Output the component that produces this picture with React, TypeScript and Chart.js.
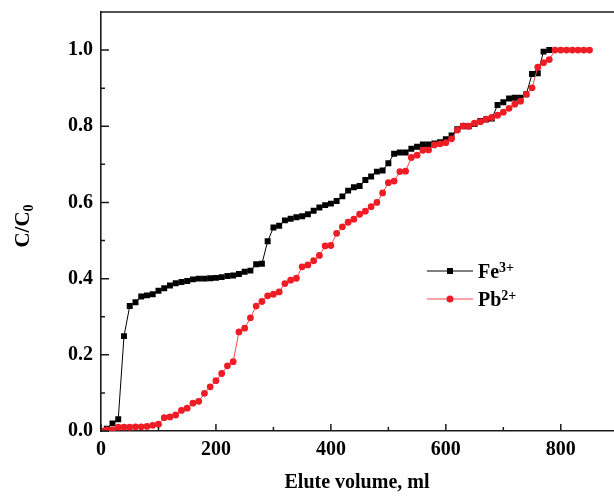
import { useEffect, useRef } from "react";
import { Chart, registerables } from "chart.js";

Chart.register(...registerables);

const FONT = '"Liberation Serif", "Times New Roman", serif';

const feVolume = [
  0, 10, 20, 30, 40, 50, 60, 70, 80, 90, 100, 110, 120, 130, 140, 150, 160, 170, 180, 190,
  200, 210, 220, 230, 240, 250, 260, 270, 280, 290, 300, 310, 320, 330, 340, 350, 360, 370, 380, 390,
  400, 410, 420, 430, 440, 450, 460, 470, 480, 490, 500, 510, 520, 530, 540, 550, 560, 570, 580, 590,
  600, 610, 620, 630, 640, 650, 660, 670, 680, 690, 700, 710, 720, 730, 740, 750, 760, 770, 780,
];
const feRatio = [
  0.0, 0.006, 0.02, 0.031, 0.249, 0.328, 0.338, 0.353, 0.356, 0.359, 0.368, 0.375, 0.382, 0.388, 0.391, 0.394, 0.398, 0.4, 0.4, 0.401,
  0.402, 0.404, 0.407, 0.408, 0.412, 0.418, 0.421, 0.438, 0.439, 0.498, 0.534, 0.539, 0.553, 0.557, 0.561, 0.564, 0.569, 0.578, 0.587, 0.593,
  0.597, 0.604, 0.616, 0.631, 0.64, 0.643, 0.659, 0.668, 0.681, 0.684, 0.703, 0.728, 0.731, 0.731, 0.741, 0.746, 0.752, 0.752, 0.755, 0.758,
  0.766, 0.776, 0.792, 0.8, 0.8, 0.806, 0.814, 0.818, 0.82, 0.856, 0.863, 0.873, 0.875, 0.875, 0.884, 0.937, 0.939, 0.996, 1.0,
];

const pbVolume = [
  0, 10, 20, 30, 40, 50, 60, 70, 80, 90, 100, 110, 120, 130, 140, 150, 160, 170, 180, 190,
  200, 210, 220, 230, 240, 250, 260, 270, 280, 290, 300, 310, 320, 330, 340, 350, 360, 370, 380, 390,
  400, 410, 420, 430, 440, 450, 460, 470, 480, 490, 500, 510, 520, 530, 540, 550, 560, 570, 580, 590,
  600, 610, 620, 630, 640, 650, 660, 670, 680, 690, 700, 710, 720, 730, 740, 750, 760, 770, 780, 790,
  800, 810, 820, 830, 840, 850,
];
const pbRatio = [
  0.0, 0.003, 0.003, 0.01, 0.01, 0.01, 0.011, 0.011, 0.012, 0.015, 0.018, 0.035, 0.037, 0.042, 0.054, 0.06, 0.073, 0.078, 0.099, 0.116,
  0.132, 0.151, 0.171, 0.182, 0.26, 0.27, 0.297, 0.328, 0.34, 0.355, 0.359, 0.365, 0.387, 0.396, 0.401, 0.431, 0.436, 0.447, 0.461, 0.486,
  0.487, 0.519, 0.536, 0.548, 0.556, 0.569, 0.577, 0.589, 0.6, 0.625, 0.652, 0.656, 0.681, 0.682, 0.718, 0.724, 0.737, 0.738, 0.751, 0.754,
  0.757, 0.767, 0.79, 0.801, 0.8, 0.808, 0.812, 0.819, 0.823, 0.829, 0.837, 0.847, 0.858, 0.866, 0.884, 0.901, 0.955, 0.967, 0.975, 1.0,
  1.0, 1.0, 1.0, 1.0, 1.0, 1.0,
];

const xMajorTicks = [0, 200, 400, 600, 800];
const xMinorTicks = [100, 300, 500, 700];
const yMajorTicks = [0, 0.2, 0.4, 0.6, 0.8, 1.0];
const yMinorTicks = [0.1, 0.3, 0.5, 0.7, 0.9];

const seriesNames = ["Fe", "Pb"];
const seriesCharges = ["3+", "2+"];
const xTitle = "Elute volume, ml";
const yTitleMain = "C/C";
const yTitleSub = "0";

const FE_COLOR = "#000000";
const PB_COLOR = "#ee1c25";
const PB_LINE = "#f0494f";
const AXIS_COLOR = "#1a1a1a";

export default function App() {
  const ref = useRef<HTMLCanvasElement>(null);

  useEffect(() => {
    if (!ref.current) return;

    const deco = {
      id: "deco",
      afterDraw(chart: any) {
        const ctx = chart.ctx as CanvasRenderingContext2D;
        const xs = chart.scales.x;
        const ys = chart.scales.y;
        const area = chart.chartArea;
        ctx.save();
        ctx.strokeStyle = AXIS_COLOR;
        ctx.lineWidth = 1.6;
        // top border
        ctx.beginPath();
        ctx.moveTo(area.left - 0.8, area.top);
        ctx.lineTo(area.right, area.top);
        ctx.stroke();
        // inward ticks
        ctx.lineWidth = 1.5;
        ctx.beginPath();
        for (const v of xMajorTicks) {
          const p = xs.getPixelForValue(v);
          ctx.moveTo(p, area.bottom);
          ctx.lineTo(p, area.bottom - 7);
        }
        for (const v of xMinorTicks) {
          const p = xs.getPixelForValue(v);
          ctx.moveTo(p, area.bottom);
          ctx.lineTo(p, area.bottom - 4);
        }
        for (const v of yMajorTicks) {
          const p = ys.getPixelForValue(v);
          ctx.moveTo(area.left, p);
          ctx.lineTo(area.left + 8, p);
        }
        for (const v of yMinorTicks) {
          const p = ys.getPixelForValue(v);
          ctx.moveTo(area.left, p);
          ctx.lineTo(area.left + 4, p);
        }
        ctx.stroke();

        // axis titles
        ctx.fillStyle = "#000";
        ctx.font = `bold 20px ${FONT}`;
        ctx.textAlign = "center";
        ctx.textBaseline = "alphabetic";
        ctx.fillText(xTitle, 357, 488);

        ctx.save();
        ctx.translate(29, 226);
        ctx.rotate(-Math.PI / 2);
        ctx.font = `bold 21px ${FONT}`;
        const wMain = ctx.measureText(yTitleMain).width;
        ctx.font = `bold 14px ${FONT}`;
        const wSub = ctx.measureText(yTitleSub).width;
        const total = wMain + wSub;
        ctx.textAlign = "left";
        ctx.font = `bold 21px ${FONT}`;
        ctx.fillText(yTitleMain, -total / 2, 0);
        ctx.font = `bold 14px ${FONT}`;
        ctx.fillText(yTitleSub, -total / 2 + wMain, 4);
        ctx.restore();

        // legend
        const rows = [
          { y: 271, color: FE_COLOR, line: FE_COLOR, rect: true },
          { y: 299, color: PB_COLOR, line: PB_LINE, rect: false },
        ];
        rows.forEach((r, i) => {
          ctx.strokeStyle = r.line;
          ctx.lineWidth = 1.2;
          ctx.beginPath();
          ctx.moveTo(427, r.y);
          ctx.lineTo(473, r.y);
          ctx.stroke();
          ctx.fillStyle = r.color;
          ctx.beginPath();
          if (r.rect) ctx.rect(447, r.y - 3, 6, 6);
          else ctx.arc(450, r.y, 3.5, 0, Math.PI * 2);
          ctx.fill();
          ctx.fillStyle = "#000";
          ctx.textAlign = "left";
          ctx.font = `bold 20px ${FONT}`;
          const w = ctx.measureText(seriesNames[i]).width;
          ctx.fillText(seriesNames[i], 478, r.y + 7);
          ctx.font = `bold 14px ${FONT}`;
          ctx.fillText(seriesCharges[i], 478 + w, r.y + 1);
        });
        ctx.restore();
      },
    };

    const chart = new Chart(ref.current, {
      type: "scatter",
      data: {
        datasets: [
          {
            label: "Fe3+",
            data: feVolume.map((x, i) => ({ x, y: feRatio[i] })),
            showLine: true,
            borderColor: FE_COLOR,
            backgroundColor: FE_COLOR,
            borderWidth: 1,
            pointStyle: "rect",
            pointRadius: 4.2,
            pointBorderWidth: 0,
            order: 1,
          },
          {
            label: "Pb2+",
            data: pbVolume.map((x, i) => ({ x, y: pbRatio[i] })),
            showLine: true,
            borderColor: PB_LINE,
            backgroundColor: PB_COLOR,
            borderWidth: 1,
            pointStyle: "circle",
            pointRadius: 3.4,
            pointBorderWidth: 0,
            order: 0,
          },
        ],
      },
      options: {
        responsive: false,
        animation: false,
        layout: { padding: { top: 12, right: 0, left: 0, bottom: 0 } },
        plugins: { legend: { display: false }, tooltip: { enabled: false } },
        scales: {
          x: {
            type: "linear",
            min: 0,
            max: 894,
            afterFit: (s: any) => {
              s.height = 65;
              s.paddingLeft = 0;
              s.paddingRight = 0;
            },
            grid: { display: false, drawTicks: false },
            border: { display: true, color: AXIS_COLOR, width: 1.6 },
            ticks: {
              includeBounds: false,
              stepSize: 200,
              padding: 7,
              color: "#000",
              font: { family: FONT, size: 20, weight: "bold" },
              maxRotation: 0,
            },
          },
          y: {
            type: "linear",
            min: 0,
            max: 1.1,
            afterFit: (s: any) => {
              s.width = 101;
              s.paddingTop = 0;
              s.paddingBottom = 0;
            },
            grid: { display: false, drawTicks: false },
            border: { display: true, color: AXIS_COLOR, width: 1.6 },
            ticks: {
              includeBounds: false,
              stepSize: 0.2,
              padding: 8,
              color: "#000",
              font: { family: FONT, size: 20, weight: "bold" },
              callback: (v: any) => Number(v).toFixed(1),
            },
          },
        },
      },
      plugins: [deco],
    } as any);

    return () => chart.destroy();
  }, []);

  return (
    <div style={{ position: "fixed", left: 0, top: 0, width: 614, height: 496, background: "#fff", overflow: "hidden" }}>
      <canvas ref={ref} width={619} height={496} style={{ display: "block" }} />
    </div>
  );
}
